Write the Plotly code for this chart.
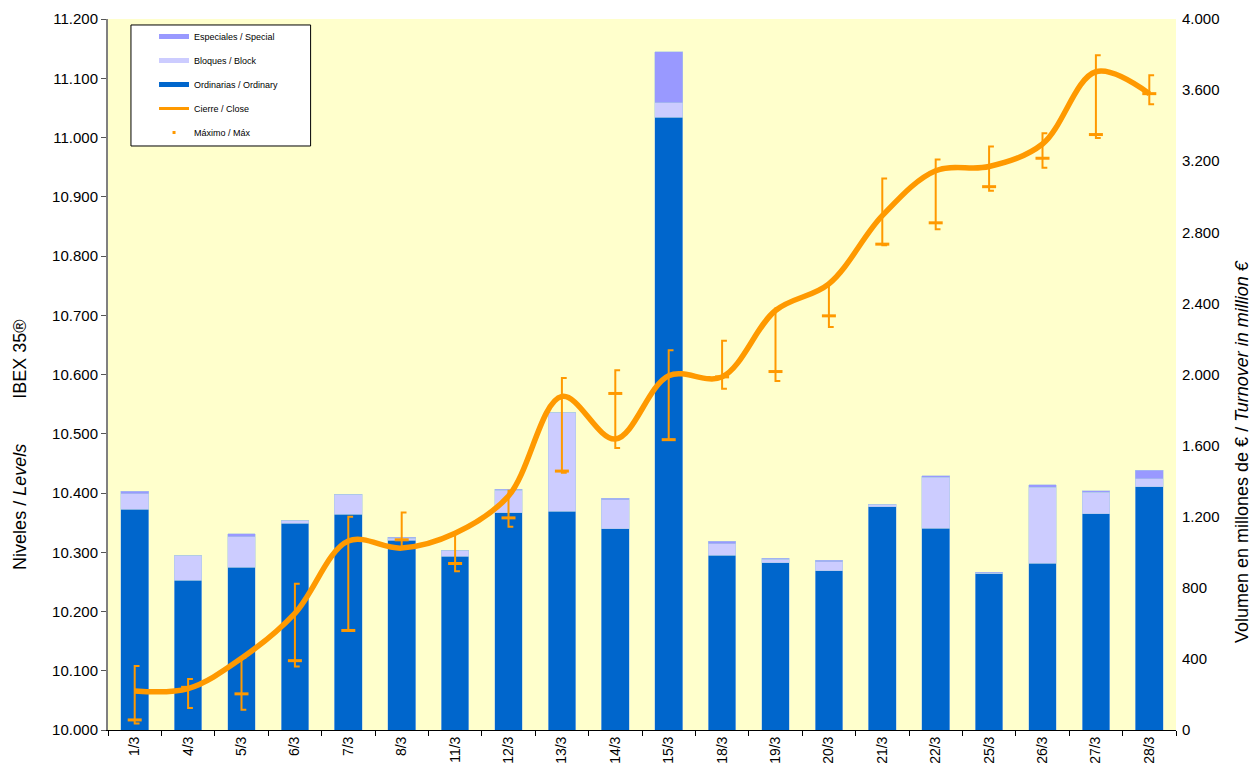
import plotly.graph_objects as go

dates = ["1/3", "4/3", "5/3", "6/3", "7/3", "8/3", "11/3", "12/3", "13/3", "14/3",
         "15/3", "18/3", "19/3", "20/3", "21/3", "22/3", "25/3", "26/3", "27/3", "28/3"]

ordinary = [1242, 843, 917, 1163, 1213, 1067, 977, 1221, 1230, 1131,
            3446, 983, 942, 895, 1255, 1135, 880, 938, 1217, 1369]
block = [88, 136, 169, 17, 113, 12, 33, 128, 555, 165,
         84, 64, 20, 51, 15, 288, 3, 429, 120, 45]
special = [13, 0, 17, 0, 0, 5, 0, 5, 0, 7,
           285, 15, 4, 9, 0, 8, 5, 13, 10, 47]

close = [10066, 10070, 10121, 10197, 10319, 10307, 10332, 10395, 10563, 10491,
         10598, 10596, 10708, 10753, 10868, 10944, 10951, 10989, 11111, 11074]
high = [10108, 10086, 10122, 10247, 10360, 10367, 10333, 10404, 10594, 10607,
        10641, 10657, 10712, 10756, 10931, 10963, 10985, 11007, 11139, 11105]
low = [10011, 10037, 10034, 10107, 10168, 10307, 10268, 10343, 10434, 10476,
       10490, 10576, 10589, 10680, 10818, 10845, 10910, 10949, 10999, 11056]
mark = [10017, 10072, 10061, 10117, 10168, 10321, 10281, 10358, 10437, 10568,
        10490, 10596, 10605, 10699, 10820, 10856, 10917, 10965, 11005, 11074]

C_SPECIAL = "#9999FF"
C_BLOCK = "#CCCCFF"
C_ORD = "#0066CC"
C_ORANGE = "#FF9900"
FONT = "Liberation Sans, Arial, sans-serif"

xs = list(range(len(dates)))
BW = 0.52
CAP = 0.09

fig = go.Figure()

# stacked volume bars (right-side axis: 'y')
for name, vals, col in [("Ordinarias / Ordinary", ordinary, C_ORD),
                        ("Bloques / Block", block, C_BLOCK),
                        ("Especiales / Special", special, C_SPECIAL)]:
    fig.add_trace(go.Bar(x=xs, y=vals, width=BW, name=name, marker_color=col,
                         marker_line=dict(width=0.6, color="rgba(170,200,230,0.9)"),
                         yaxis="y", showlegend=False, legendgroup=name))

# high-low lines with right caps
hx, hy = [], []
for i, (h, l) in enumerate(zip(high, low)):
    hx += [i + CAP, i, i, i + CAP, None]
    hy += [h, h, l, l, None]
fig.add_trace(go.Scatter(x=hx, y=hy, mode="lines", yaxis="y2",
                         line=dict(color=C_ORANGE, width=2), showlegend=False,
                         hoverinfo="skip"))
fig.add_trace(go.Scatter(x=xs, y=mark, mode="markers", yaxis="y2",
                         marker=dict(symbol="line-ew", size=10,
                                     line=dict(color=C_ORANGE, width=3)),
                         showlegend=False, legendgroup="Máximo / Máx"))

# close line
fig.add_trace(go.Scatter(x=xs, y=close, mode="lines", yaxis="y2",
                         line=dict(color=C_ORANGE, width=5.5, shape="spline", smoothing=1),
                         showlegend=False, legendgroup="Cierre / Close"))

# legend entries
legend_items = [("Especiales / Special", dict(mode="lines", line=dict(color=C_SPECIAL, width=5))),
                ("Bloques / Block", dict(mode="lines", line=dict(color=C_BLOCK, width=5))),
                ("Ordinarias / Ordinary", dict(mode="lines", line=dict(color=C_ORD, width=5))),
                ("Cierre / Close", dict(mode="lines", line=dict(color=C_ORANGE, width=3))),
                ("Máximo / Máx", dict(mode="markers", marker=dict(symbol="square", size=3, color=C_ORANGE)))]
for name, kw in legend_items:
    fig.add_trace(go.Scatter(x=[None], y=[None], name=name, yaxis="y2",
                             legendgroup=name, showlegend=True, **kw))

# the page body adds an 8px offset, so the figure is 8px smaller on each side
fig.update_layout(
    width=1249, height=759,
    margin=dict(l=100, r=81, t=11, b=37, autoexpand=False),
    paper_bgcolor="white", plot_bgcolor="#FFFFCC",
    barmode="stack",
    separators=",.",
    font=dict(family=FONT, color="black"),
    showlegend=True,
    legend=dict(x=0.0431, y=0.9958, xanchor="left", yanchor="top",
                bgcolor="rgba(0,0,0,0)", borderwidth=0,
                font=dict(size=9, family=FONT), traceorder="grouped",
                tracegroupgap=5, itemwidth=30),
    xaxis=dict(range=[-0.5, len(dates) - 0.5], tickmode="array", tickvals=xs,
               ticktext=dates, tickangle=-90, ticks="", showgrid=False,
               showline=True, linecolor="black", linewidth=1, zeroline=False,
               automargin=False,
               tickfont=dict(size=14, family=FONT),
               minor=dict(tickmode="array", tickvals=[i - 0.5 for i in range(len(dates) + 1)],
                          ticks="outside", ticklen=5, tickcolor="black", showgrid=False)),
    yaxis=dict(side="right", range=[0, 4000], tick0=0, dtick=400, tickformat=",d",
               showgrid=False, zeroline=False, showline=False, ticks="",
               ticklabelstandoff=5,
               automargin=False, tickfont=dict(size=15, family=FONT)),
    yaxis2=dict(overlaying="y", side="left", range=[10000, 11200], tick0=10000, dtick=100,
                tickformat=",d", showgrid=False, zeroline=False, showline=True,
                linecolor="#808080", linewidth=2, ticks="outside", ticklen=5,
                automargin=False,
                tickcolor="#555555", tickfont=dict(size=15, family=FONT)),
)

# legend frame
fig.add_shape(type="rect", xref="paper", yref="paper",
              x0=0.0215, x1=0.1897, y0=0.8214, y1=0.9916,
              fillcolor="white", line=dict(color="black", width=1), layer="above")

fig.add_annotation(text="Niveles / <i>Levels</i>" + "&nbsp;" * 9 + "IBEX 35®",
                   xref="paper", yref="paper", x=-0.0824, y=0.401, textangle=-90,
                   showarrow=False, xanchor="center", yanchor="middle",
                   font=dict(size=18, family=FONT))
fig.add_annotation(text="Volumen en millones de € / <i>Turnover in million €</i>",
                   xref="paper", yref="paper", x=1.0618, y=0.391, textangle=-90,
                   showarrow=False, xanchor="center", yanchor="middle",
                   font=dict(size=18, family=FONT))

fig.write_html("out.html")
